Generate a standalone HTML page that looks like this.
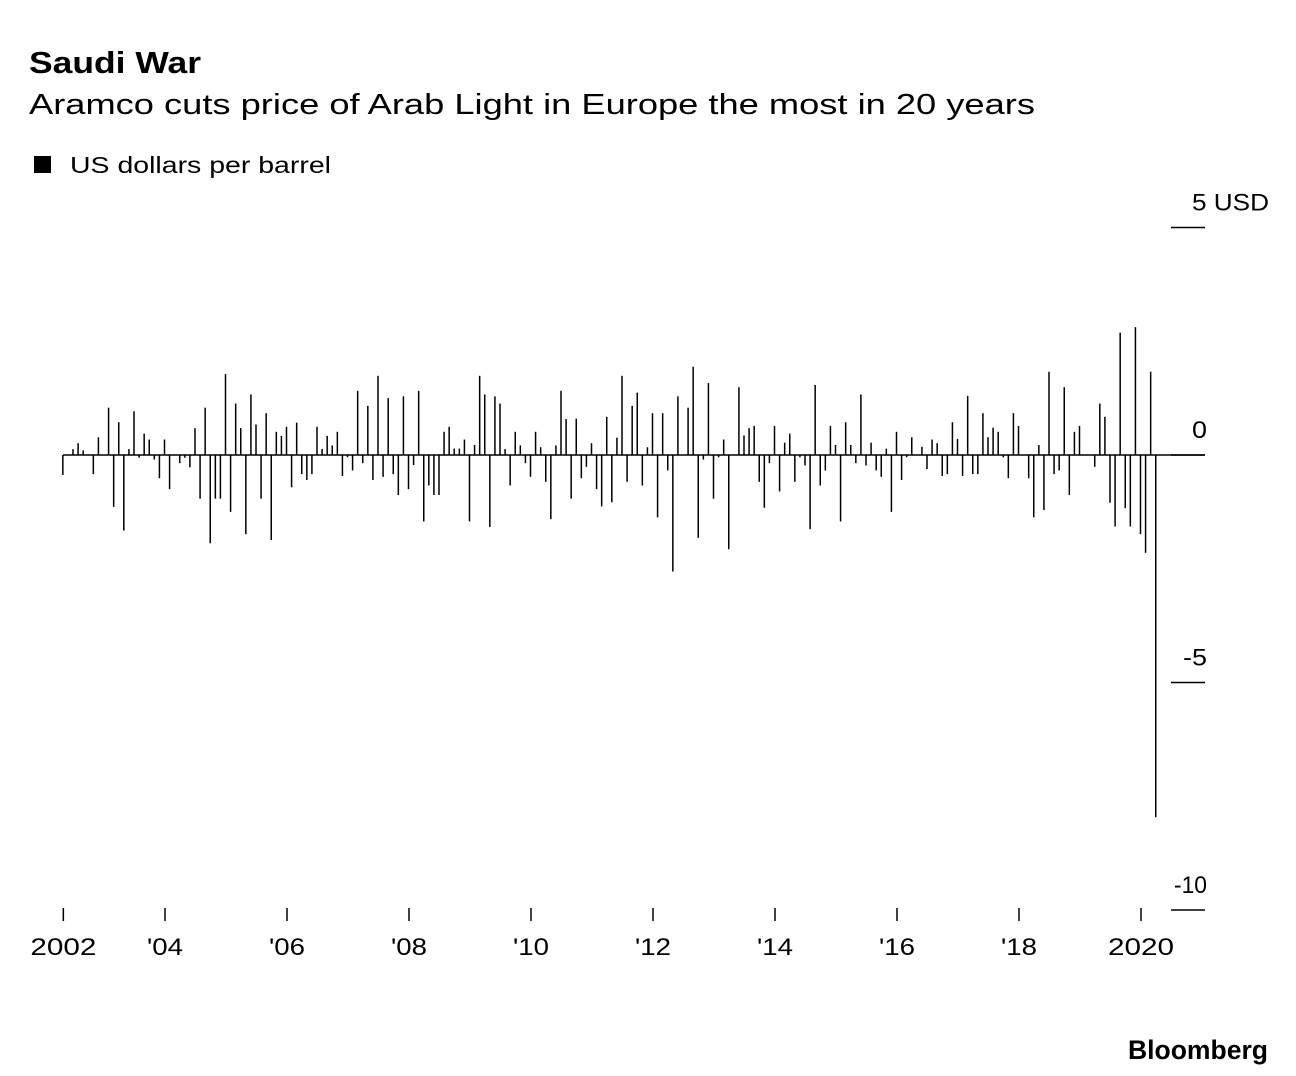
<!DOCTYPE html>
<html><head><meta charset="utf-8"><style>
body{margin:0;background:#fff;width:1296px;height:1076px;overflow:hidden;font-family:"Liberation Sans",sans-serif;}
</style></head><body>
<svg width="1296" height="1076" xmlns="http://www.w3.org/2000/svg" style="position:absolute;left:0;top:0">
<text x="29" y="73" font-size="31" font-weight="bold" fill="#000" font-family="Liberation Sans, sans-serif" textLength="172" lengthAdjust="spacingAndGlyphs">Saudi War</text>
<text x="29" y="114" font-size="29" fill="#000" font-family="Liberation Sans, sans-serif" textLength="1006" lengthAdjust="spacingAndGlyphs">Aramco cuts price of Arab Light in Europe the most in 20 years</text>
<rect x="34" y="156" width="17" height="17" fill="#000"/>
<text x="70" y="173" font-size="23" fill="#000" font-family="Liberation Sans, sans-serif" textLength="261" lengthAdjust="spacingAndGlyphs">US dollars per barrel</text>
<g id="bars"></g>
<g id="yaxis"></g>
<g id="xaxis"></g>
<text x="1128" y="1059" font-size="27" font-weight="bold" fill="#000" font-family="Liberation Sans, sans-serif" textLength="140" lengthAdjust="spacingAndGlyphs">Bloomberg</text>
</svg>
<script>
const startYear = 2002, startMonth = 4; // May 2002
const values = [
-0.44,0,0.13,0.26,0.1,0,-0.42,0.39,0,1.04,-1.14,0.72,-1.66,0.13,0.96,-0.06,0.47,0.34,-0.1,-0.51,0.34,-0.75,0,-0.18,-0.06,-0.27,0.59,-0.96,1.04,-1.94,-0.96,-0.96,1.78,-1.25,1.13,0.59,-1.74,1.33,0.67,-0.96,0.92,-1.87,
0.51,0.42,0.62,-0.71,0.71,-0.42,-0.55,-0.42,0.62,0.13,0.42,0.21,0.51,-0.46,-0.05,-0.34,1.41,-0.18,1.08,-0.55,1.74,-0.48,1.25,-0.42,-0.88,1.29,-0.75,-0.22,1.41,-1.46,-0.67,-0.88,-0.88,0.51,0.62,0.14,0.14,0.34,-1.46,0.22,1.74,1.33,-1.58,1.29,1.13,
0.13,-0.67,0.51,0.21,-0.18,-0.48,0.51,0.17,-0.59,-1.41,0.21,1.41,0.79,-0.96,0.8,-0.51,-0.26,0.26,-0.75,-1.13,0.84,-1.04,0.38,1.74,-0.59,1.08,1.37,-0.67,0.17,0.92,-1.37,0.92,-0.34,-2.56,1.29,0,1.04,1.94,-1.82,-0.1,1.58,-0.96,-0.05,
0.34,-2.07,0,1.49,0.43,0.59,0.64,-0.59,-1.16,-0.18,0.64,-0.8,0.27,0.47,-0.59,-0.05,-0.23,-1.63,1.54,-0.67,-0.34,0.64,0.22,-1.46,0.72,0.22,-0.18,1.33,-0.23,0.27,-0.34,-0.48,0.14,-1.25,0.51,-0.55,-0.05,0.39,0,0.18,-0.31,0.34,
0.26,-0.46,-0.42,0.72,0.35,-0.46,1.3,-0.42,-0.42,0.92,0.39,0.6,0.51,-0.05,-0.51,0.92,0.64,0,-0.51,-1.37,0.22,-1.21,1.83,-0.42,-0.34,1.49,-0.88,0.51,0.64,0,0,-0.26,1.13,0.84,-1.05,-1.57,2.69,-1.17,-1.57,2.81,-1.74,-2.15,1.83,-7.96
];
const yTicks = [5,0,-5,-10];
const yTickLabels = ["5 USD","0","-5","-10"];
const xTicks = [2002.3333,2004,2006,2008,2010,2012,2014,2016,2018,2020];
const xTickLabels = ["2002","'04","'06","'08","'10","'12","'14","'16","'18","2020"];

const NS = "http://www.w3.org/2000/svg";
function xScale(t){ return 165 + (t - 2004) * 61; }
function yScale(v){ return 455 - v * 45.5; }
function mk(tag, attrs){ const e = document.createElementNS(NS, tag); for (const k in attrs) e.setAttribute(k, attrs[k]); return e; }

const bars = document.getElementById('bars');
values.forEach((v, i) => {
  const t = startYear + (startMonth + i) / 12;
  const x = xScale(t) - 0.5;
  const y0 = yScale(0), y1 = yScale(v);
  const r = mk('rect', {x: x - 0.75, y: Math.min(y0, y1), width: 1.5, height: Math.max(Math.abs(y1 - y0), 0.5), fill: '#000'});
  
  
  bars.appendChild(r);
});

const xa = document.getElementById('xaxis');
const base = mk('line', {x1: 63, x2: 1205, y1: yScale(0), y2: yScale(0), stroke: '#000', 'stroke-width': 1.6});


xa.appendChild(base);
xTicks.forEach((t, i) => {
  const x = xScale(t);
  const l = mk('line', {x1: x, x2: x, y1: 908, y2: 921, stroke: '#000', 'stroke-width': 1.5});
  
  
  xa.appendChild(l);
  const label = xTickLabels[i];
  const w = label.length === 4 ? 66 : 36;
  const tx = mk('text', {x: x - w / 2, y: 955, 'font-size': 24, fill: '#000', 'font-family': 'Liberation Sans, sans-serif', textLength: w, lengthAdjust: 'spacingAndGlyphs'});
  tx.textContent = label;
  
  
  xa.appendChild(tx);
});

const ya = document.getElementById('yaxis');
const yLabelWidths = [77, 15, 24, 33];
yTicks.forEach((v, i) => {
  const y = yScale(v);
  const l = mk('line', {x1: 1171, x2: 1205, y1: y, y2: y, stroke: '#000', 'stroke-width': 1.6});
  
  
  ya.appendChild(l);
  const right = i === 0 ? 1269 : 1207;
  const w = yLabelWidths[i];
  const tx = mk('text', {x: right - w, y: y - 17, 'font-size': 24, fill: '#000', 'font-family': 'Liberation Sans, sans-serif', textLength: w, lengthAdjust: 'spacingAndGlyphs'});
  tx.textContent = yTickLabels[i];
  
  
  ya.appendChild(tx);
});
</script>
</body></html>
